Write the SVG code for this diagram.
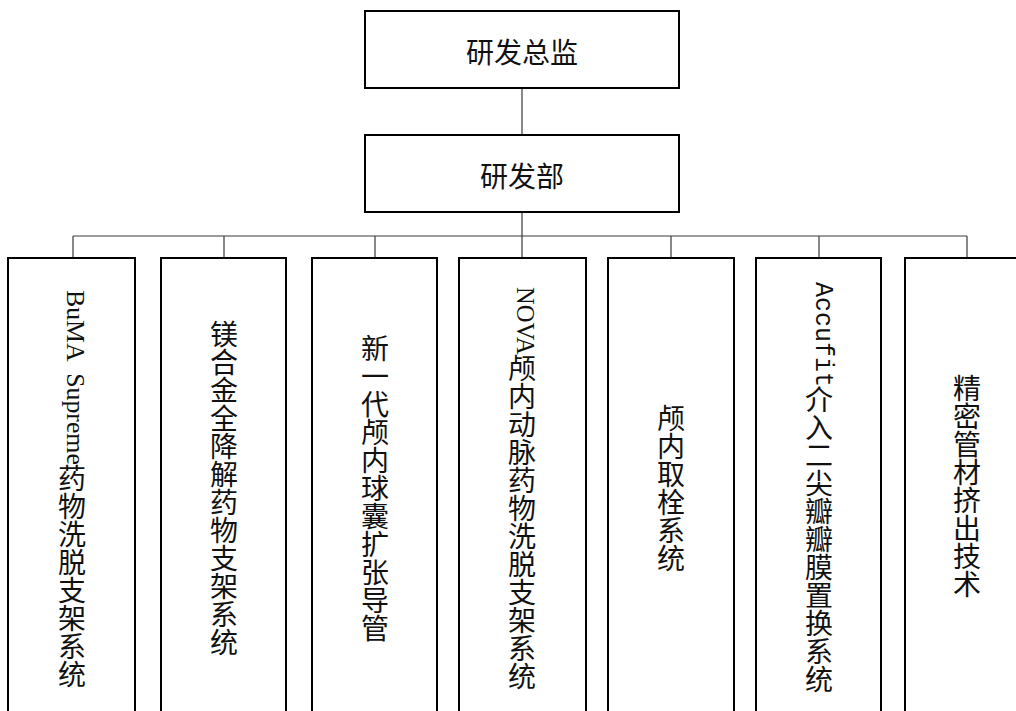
<svg xmlns="http://www.w3.org/2000/svg" width="1016" height="711" viewBox="0 0 1016 711">
<style>
.box{fill:#fff;stroke:#000;stroke-width:2}
.conn{stroke:#3a3a3a;stroke-width:1.2;fill:none}
.h{font-family:"Noto Sans CJK SC","Liberation Serif",sans-serif;font-size:28px;fill:#111;text-anchor:middle;dominant-baseline:central}
.v{font-family:"Noto Sans CJK SC","Liberation Serif",sans-serif;font-size:28px;fill:#111;text-anchor:middle;writing-mode:vertical-rl;text-orientation:mixed}
.vs{font-family:"Noto Sans CJK SC","Liberation Serif",sans-serif;font-size:28px;fill:#111;text-anchor:start;writing-mode:vertical-rl;text-orientation:mixed}
.lat{font-family:"Liberation Serif",serif;font-size:24.5px;fill:#111;text-anchor:start;writing-mode:vertical-rl;text-orientation:mixed}
.mono{font-family:"Liberation Mono",monospace;font-size:25px;fill:#111;text-anchor:start;writing-mode:vertical-rl;text-orientation:mixed}
</style>
<rect width="1016" height="711" fill="#fff"/>
<g id="connectors">
<line class="conn" x1="522" y1="88" x2="522" y2="135"/>
<line class="conn" x1="522" y1="212" x2="522" y2="258"/>
<line class="conn" x1="73" y1="236" x2="967" y2="236"/>
<line class="conn" x1="73" y1="236" x2="73" y2="258"/>
<line class="conn" x1="224" y1="236" x2="224" y2="258"/>
<line class="conn" x1="375" y1="236" x2="375" y2="258"/>
<line class="conn" x1="671" y1="236" x2="671" y2="258"/>
<line class="conn" x1="819" y1="236" x2="819" y2="258"/>
<line class="conn" x1="967" y1="236" x2="967" y2="258"/>
</g>
<g id="n-director">
<rect class="box" x="365" y="11" width="314" height="77"/>
<text class="h" x="522" y="51">研发总监</text>
</g>
<g id="n-rd">
<rect class="box" x="365" y="135" width="314" height="77"/>
<text class="h" x="522" y="175">研发部</text>
</g>
<g id="n-1">
<rect class="box" x="8" y="258" width="127" height="470"/>
<text class="lat" x="75" y="290" style="font-size:25.8px" xml:space="preserve">BuMA  Supreme</text>
<text class="vs" x="72" y="464">药物洗脱支架系统</text>
</g>
<g id="n-2">
<rect class="box" x="161" y="258" width="125" height="470"/>
<text class="v" x="224" y="488">镁合金全降解药物支架系统</text>
</g>
<g id="n-3">
<rect class="box" x="312" y="258" width="125" height="470"/>
<text class="v" x="375" y="488">新一代颅内球囊扩张导管</text>
</g>
<g id="n-4">
<rect class="box" x="459" y="258" width="127" height="470"/>
<text class="lat" x="525" y="287">NOVA</text>
<text class="vs" x="522" y="354">颅内动脉药物洗脱支架系统</text>
</g>
<g id="n-5">
<rect class="box" x="608" y="258" width="126" height="470"/>
<text class="v" x="671" y="488">颅内取栓系统</text>
</g>
<g id="n-6">
<rect class="box" x="756" y="258" width="125" height="470"/>
<text class="mono" x="822" y="282">Accufit</text>
<text class="vs" x="819" y="385">介入二尖瓣瓣膜置换系统</text>
</g>
<g id="n-7">
<rect class="box" x="905" y="258" width="130" height="470"/>
<text class="v" x="967" y="486">精密管材挤出技术</text>
</g>
</svg>
